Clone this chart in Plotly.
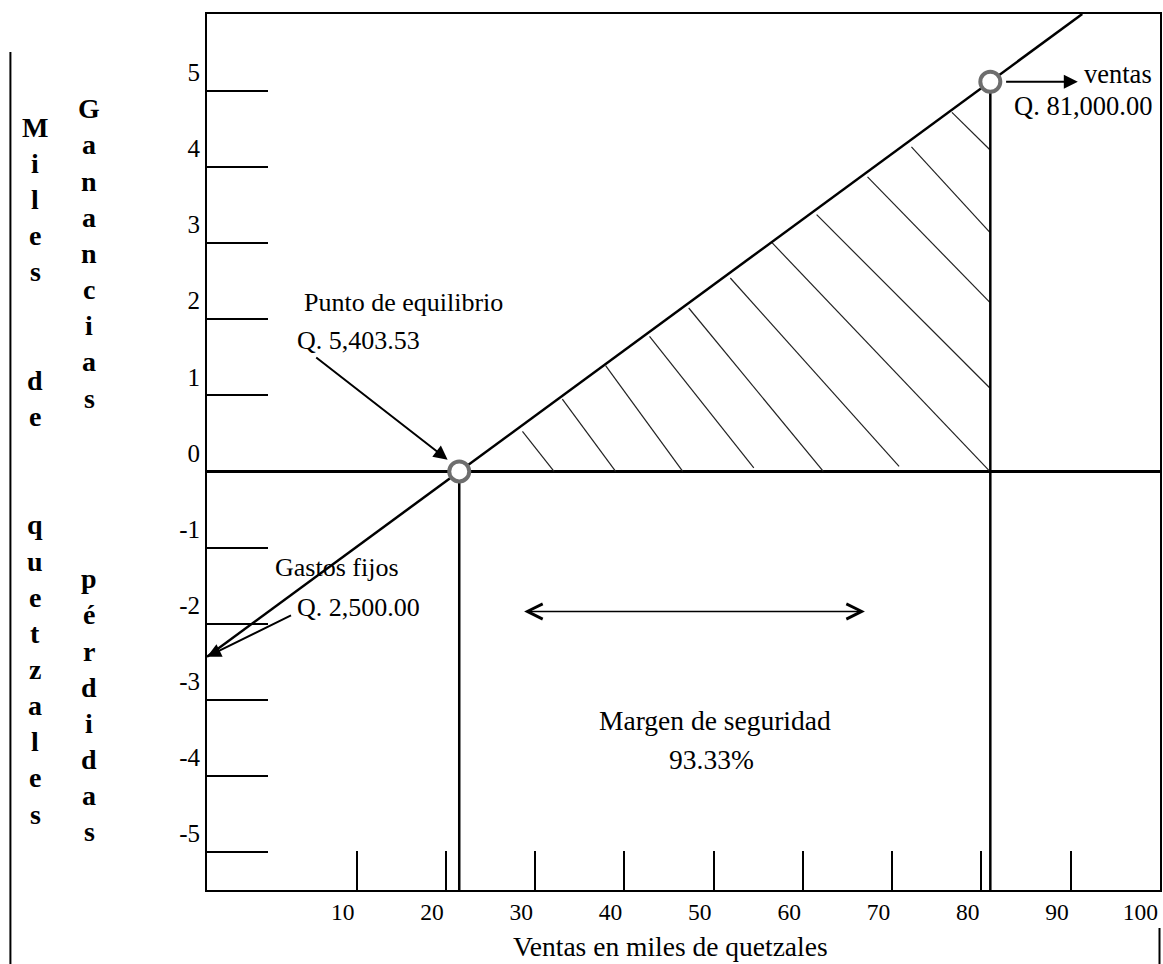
import plotly.graph_objects as go

# ---------------- data ----------------
x_range = [-6.76, 100.01]
y_range = [-5.5, 6.01]
x_ticks = [10, 20, 30, 40, 50, 60, 70, 80, 90, 100]
y_ticks = [-5, -4, -3, -2, -1, 0, 1, 2, 3, 4, 5]

sales_line_x = [-6.76, 91.3]
sales_line_y = [-2.435, 6.01]

breakeven_x = 21.5
breakeven_y = 0.0
ventas_x = 81.0
ventas_y = 5.12
fixed_cost_y = -2.435

hatch_x0 = [28.58, 33.05, 37.90, 42.82, 47.21, 51.87, 56.51, 61.54, 67.24, 72.16, 76.70]
hatch_y0 = [0.526, 0.951, 1.389, 1.774, 2.147, 2.541, 3.009, 3.373, 3.869, 4.263, 4.717]
hatch_x1 = [32.12, 39.02, 46.54, 54.50, 62.29, 70.78, 80.95, 80.95, 80.95, 80.95, 80.95]
hatch_y1 = [0.0, 0.0, 0.0, 0.045, 0.0, 0.066, 0.0, 1.096, 2.221, 3.141, 4.227]

margen_x = [28.6, 66.95]
margen_y = -1.84

col_miles = "Miles  de  quetzales"
col_gan = "Ganancias    pérdidas"

# ---------------- layout geometry ----------------
W, H = 1163, 964
ML, MR, MT, MB = 207, 1, 14, 74
PW, PH = W - ML - MR, H - MT - MB


def px_x(px):
    return (px - ML) / PW


def px_y(py):
    return (H - MB - py) / PH


FONT = "Liberation Serif"
BLACK = "black"

fig = go.Figure()

# hatch lines
hx, hy = [], []
for a, b, c, d in zip(hatch_x0, hatch_y0, hatch_x1, hatch_y1):
    hx += [a, c, None]
    hy += [b, d, None]
fig.add_trace(go.Scatter(x=hx, y=hy, mode="lines",
                         line=dict(color="#222222", width=1.2), hoverinfo="skip"))

# sales line
fig.add_trace(go.Scatter(x=sales_line_x, y=sales_line_y, mode="lines",
                         line=dict(color=BLACK, width=2.5), hoverinfo="skip"))

# vertical lines from breakeven and ventas down to bottom
fig.add_trace(go.Scatter(x=[breakeven_x, breakeven_x, None, ventas_x, ventas_x],
                         y=[breakeven_y, y_range[0], None, ventas_y, y_range[0]],
                         mode="lines", line=dict(color=BLACK, width=2.5), hoverinfo="skip"))

# circles
fig.add_trace(go.Scatter(x=[breakeven_x, ventas_x], y=[breakeven_y, ventas_y], mode="markers",
                         marker=dict(size=20, color="white",
                                     line=dict(color="#6e6e6e", width=4)),
                         hoverinfo="skip"))

annotations = []

# arrows
annotations.append(dict(x=20.2, y=0.154, ax=5.31, ay=1.511, xref="x", yref="y",
                        axref="x", ayref="y", text="", showarrow=True, arrowhead=2,
                        arrowsize=1.4, arrowwidth=2, arrowcolor=BLACK, standoff=0))
annotations.append(dict(x=x_range[0], y=fixed_cost_y, ax=2.82, ay=-1.883, xref="x", yref="y",
                        axref="x", ayref="y", text="", showarrow=True, arrowhead=2,
                        arrowsize=1.4, arrowwidth=2, arrowcolor=BLACK, standoff=0))
annotations.append(dict(x=90.8, y=ventas_y, ax=82.6, ay=ventas_y, xref="x", yref="y",
                        axref="x", ayref="y", text="", showarrow=True, arrowhead=2,
                        arrowsize=1.4, arrowwidth=2, arrowcolor=BLACK, standoff=0))
annotations.append(dict(x=margen_x[1], y=margen_y, ax=margen_x[0], ay=margen_y,
                        xref="x", yref="y", axref="x", ayref="y", text="", showarrow=True,
                        arrowside="end+start", arrowhead=5, startarrowhead=5,
                        arrowsize=2, startarrowsize=2, arrowwidth=1.5,
                        arrowcolor=BLACK, standoff=0, startstandoff=0))

# text labels
texts = [
    ("Punto de equilibrio", 3.93, 2.218, "left", 26),
    ("Q. 5,403.53", 3.07, 1.717, "left", 26),
    ("Gastos fijos", 0.58, -1.265, "left", 26),
    ("Q. 2,500.00", 3.07, -1.791, "left", 26),
    ("ventas", 99.39, 5.219, "right", 26.5),
    ("Q. 81,000.00", 99.39, 4.806, "right", 26.5),
    ("Margen de seguridad", 50.11, -3.276, "center", 27.5),
    ("93.33%", 49.8, -3.782, "center", 27.5),
]
for t, x, y, anc, fs in texts:
    annotations.append(dict(x=x, y=y, xref="x", yref="y", text=t, showarrow=False,
                            xanchor=anc, yanchor="middle",
                            font=dict(family=FONT, size=fs, color=BLACK)))

# x axis title
annotations.append(dict(x=px_x(671.5), y=px_y(946), xref="paper", yref="paper",
                        text="Ventas en miles de quetzales", showarrow=False,
                        xanchor="center", yanchor="middle",
                        font=dict(family=FONT, size=27.5, color=BLACK)))

# vertical bold letter columns
STEP = 36.15
for col, cx, base0 in [(col_miles, 35, 136.7), (col_gan, 89, 118.3)]:
    for i, ch in enumerate(col):
        if ch == " ":
            continue
        annotations.append(dict(x=px_x(cx), y=px_y(base0 + i * STEP - 9.5),
                                xref="paper", yref="paper", text="<b>%s</b>" % ch,
                                showarrow=False, xanchor="center", yanchor="middle",
                                font=dict(family=FONT, size=28, color=BLACK)))

shapes = [
    dict(type="line", xref="paper", yref="paper", x0=px_x(10), x1=px_x(10),
         y0=px_y(52), y1=px_y(H + 5), line=dict(color=BLACK, width=2)),
    dict(type="line", xref="paper", yref="paper", x0=px_x(1161.5), x1=px_x(1161.5),
         y0=px_y(928), y1=px_y(H + 5), line=dict(color=BLACK, width=2)),
]

fig.update_layout(
    width=W, height=H,
    margin=dict(l=ML, r=MR, t=MT, b=MB),
    plot_bgcolor="white", paper_bgcolor="white",
    showlegend=False,
    font=dict(family=FONT, color=BLACK),
    annotations=annotations,
    shapes=shapes,
)
fig.update_xaxes(range=x_range, tickvals=x_ticks, ticktext=[str(v) for v in x_ticks],
                 ticks="inside", ticklen=39, tickwidth=2, tickcolor=BLACK,
                 ticklabelposition="outside left",
                 tickfont=dict(family=FONT, size=23.5, color=BLACK),
                 showgrid=False, zeroline=False, showline=True, linewidth=2,
                 linecolor=BLACK, mirror=True, fixedrange=True)
fig.update_yaxes(range=y_range, tickvals=y_ticks, ticktext=[str(v) for v in y_ticks],
                 ticks="inside", ticklen=61, tickwidth=2, tickcolor=BLACK,
                 ticklabelposition="outside top",
                 tickfont=dict(family=FONT, size=25, color=BLACK),
                 showgrid=False, zeroline=True, zerolinewidth=2.5, zerolinecolor=BLACK,
                 showline=True, linewidth=2, linecolor=BLACK, mirror=True, fixedrange=True)

fig.write_html("out.html", config={"displayModeBar": False},
               post_script="document.body.style.margin='0';document.body.style.padding='0';"
                           "document.documentElement.style.overflow='hidden';")
